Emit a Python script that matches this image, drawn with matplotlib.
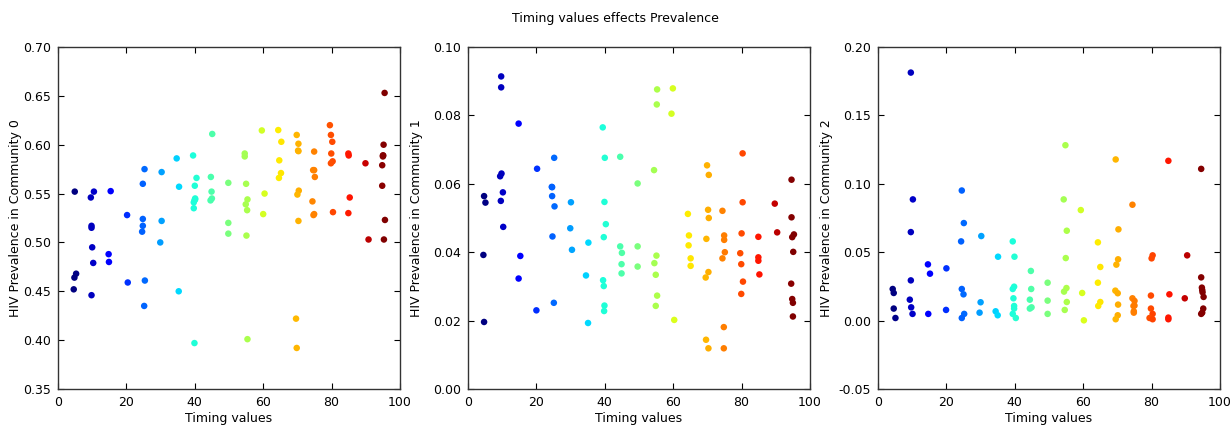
import numpy as np
import matplotlib
matplotlib.use("Agg")
import matplotlib.pyplot as plt

# Timing values (with small jitter) and HIV prevalence per community
timing_c0 = [4.9, 5.3, 4.8, 4.6,
             10.5, 9.6, 9.8, 9.8, 10.0, 10.3, 9.8,
             15.4, 14.8, 14.9,
             20.2, 20.4,
             24.8, 25.3, 24.8, 24.8, 24.6, 25.4, 25.2,
             30.3, 30.3, 29.9,
             34.7, 35.4, 35.3,
             39.5, 40.0, 40.5, 40.1, 39.9, 39.7, 39.7, 39.9, 40.1,
             45.1, 44.7, 44.9, 45.0, 44.6,
             49.8, 49.8, 49.8,
             54.6, 54.6, 55.0, 55.4, 54.9, 55.3, 55.1, 55.4,
             59.6, 60.4, 60.0,
             64.4, 65.3, 64.7, 65.2, 64.6,
             69.8, 70.3, 70.3, 70.4, 70.0, 70.3, 69.6, 69.8, 70.2,
             74.9, 74.6, 74.9, 75.1, 74.4, 74.9, 74.7,
             79.5, 79.8, 80.2, 79.9, 80.3, 79.8, 80.4,
             84.9, 85.0, 85.3, 84.9,
             89.9, 90.8,
             95.5, 95.2, 95.0, 95.0, 94.8, 94.8, 95.6, 95.3, 95.1]
prev_c0 = [0.552, 0.468, 0.464, 0.452,
           0.552, 0.546, 0.517, 0.515, 0.495, 0.479, 0.446,
           0.5525, 0.488, 0.480,
           0.528, 0.459,
           0.560, 0.575, 0.524, 0.517, 0.511, 0.461, 0.435,
           0.572, 0.522, 0.500,
           0.586, 0.557, 0.450,
           0.589, 0.558, 0.566, 0.544, 0.543, 0.541, 0.535, 0.397, 0.545,
           0.611, 0.567, 0.552, 0.545, 0.543,
           0.561, 0.520, 0.509,
           0.591, 0.588, 0.560, 0.544, 0.539, 0.533, 0.507, 0.401,
           0.6146, 0.550, 0.529,
           0.615, 0.603, 0.584, 0.571, 0.566,
           0.610, 0.601, 0.5934, 0.553, 0.549, 0.522, 0.422, 0.392, 0.594,
           0.593, 0.574, 0.574, 0.567, 0.542, 0.529, 0.528,
           0.620, 0.610, 0.603, 0.591, 0.583, 0.581, 0.531,
           0.591, 0.589, 0.546, 0.530,
           0.581, 0.503,
           0.653, 0.600, 0.589, 0.588, 0.579, 0.558, 0.523, 0.503, 0.589]

timing_c1 = [4.7, 5.1, 4.5, 4.7,
             9.7, 9.7, 9.8, 9.4, 10.2, 9.6, 10.3,
             14.8, 15.3, 14.8,
             20.2, 20.0,
             25.2, 24.5, 24.6, 25.3, 24.7, 25.1, 24.6,
             30.1, 29.9, 30.4,
             35.2, 34.5, 35.1,
             39.4, 40.0, 39.9, 40.3, 39.7, 39.5, 39.7, 39.9, 39.8,
             44.5, 44.5, 45.0, 44.9, 44.9,
             49.6, 49.6, 49.6,
             55.3, 55.2, 54.4, 55.1, 54.5, 54.9, 55.3, 54.9,
             59.9, 59.5, 60.3,
             64.3, 64.6, 64.5, 65.1, 65.1,
             69.9, 70.4, 70.2, 70.4, 69.7, 70.3, 69.5, 69.6, 70.3,
             74.4, 74.9, 74.9, 75.1, 74.4, 74.8, 74.8,
             80.3, 80.3, 80.0, 79.6, 79.9, 80.4, 79.9,
             84.9, 84.9, 84.9, 85.2,
             89.7, 90.4,
             94.6, 94.6, 94.8, 95.3, 95.1, 94.5, 94.8, 95.0, 95.0]
prev_c1 = [0.0564, 0.0545, 0.0392, 0.0196,
           0.0914, 0.0882, 0.0630, 0.0622, 0.0575, 0.0550, 0.0474,
           0.0776, 0.0389, 0.0323,
           0.0644, 0.0230,
           0.0676, 0.0591, 0.0564, 0.0534, 0.0446, 0.0252, 0.0590,
           0.0546, 0.0470, 0.0407,
           0.0428, 0.0332, 0.0193,
           0.0765, 0.0676, 0.0547, 0.0482, 0.0444, 0.0318, 0.0301, 0.0244, 0.0228,
           0.0679, 0.0417, 0.0398, 0.0365, 0.0338,
           0.0601, 0.0417, 0.0358,
           0.0876, 0.0832, 0.0640, 0.0390, 0.0368, 0.0334, 0.0273, 0.0243,
           0.0879, 0.0805, 0.0202,
           0.0512, 0.0449, 0.0420, 0.0382, 0.0360,
           0.0654, 0.0626, 0.0524, 0.0500, 0.0439, 0.0342, 0.0326, 0.0144, 0.0119,
           0.0521, 0.0449, 0.0436, 0.0400, 0.0382, 0.0181, 0.0119,
           0.0689, 0.0546, 0.0455, 0.0397, 0.0365, 0.0314, 0.0278,
           0.0445, 0.0385, 0.0375, 0.0335,
           0.0542, 0.0458,
           0.0612, 0.0502, 0.0444, 0.0452, 0.0401, 0.0308, 0.0263, 0.0252, 0.0212]

timing_c2 = [4.3, 4.6, 4.6, 5.1,
             9.6, 10.2, 9.6, 9.6, 9.3, 9.7, 10.1,
             14.6, 15.2, 14.7,
             20.0, 19.9,
             24.5, 25.1, 24.3, 24.5, 25.0, 25.2, 24.5,
             30.2, 30.0, 29.7,
             35.1, 34.4, 35.0,
             39.4, 39.9, 39.8, 39.4, 39.6, 39.8, 39.8, 39.4, 40.3,
             44.7, 44.8, 44.4, 44.9, 44.4,
             49.6, 49.6, 49.6,
             54.8, 54.3, 55.2, 54.9, 55.1, 54.4, 55.2, 54.6,
             59.3, 59.7, 60.2,
             64.3, 65.0, 64.3, 65.0, 64.4,
             69.5, 70.3, 70.2, 69.7, 69.4, 70.1, 70.2, 70.1, 69.5,
             74.4, 74.4, 75.0, 74.7, 74.8, 74.8, 75.0,
             80.3, 80.0, 79.8, 79.8, 80.3, 79.4, 80.3,
             84.9, 85.2, 84.9, 84.9,
             90.4, 89.7,
             94.5, 94.5, 94.7, 94.8, 94.9, 95.2, 95.1, 94.8, 94.5]
prev_c2 = [0.0231, 0.0202, 0.0088, 0.0019,
           0.1813, 0.0886, 0.0647, 0.0294, 0.0153, 0.0097, 0.0049,
           0.0411, 0.0343, 0.0049,
           0.0382, 0.0078,
           0.0951, 0.0713, 0.0579, 0.0231, 0.0192, 0.0049, 0.0019,
           0.0618, 0.0134, 0.0058,
           0.0467, 0.0068, 0.0039,
           0.0579, 0.0467, 0.0248, 0.0231, 0.0163, 0.0107, 0.0088, 0.0049, 0.0019,
           0.0363, 0.0231, 0.0153, 0.0097, 0.0088,
           0.0277, 0.0146, 0.0049,
           0.1282, 0.0886, 0.0657, 0.0457, 0.0238, 0.0212, 0.0136, 0.0078,
           0.0808, 0.0202, 0.0002,
           0.0572, 0.0392, 0.0277, 0.0136, 0.0107,
           0.1178, 0.0667, 0.0448, 0.0409, 0.0219, 0.0200, 0.0117, 0.0039, 0.0010,
           0.0847, 0.0163, 0.0144, 0.0107, 0.0068, 0.0058, 0.0110,
           0.0477, 0.0455, 0.0183, 0.0088, 0.0049, 0.0019, 0.0010,
           0.1168, 0.0192, 0.0022, 0.0010,
           0.0477, 0.0163,
           0.1109, 0.0316, 0.0241, 0.0224, 0.0207, 0.0173, 0.0088, 0.0058, 0.0049]

x_ticks = [0, 20, 40, 60, 80, 100]
y_limits = [(0.35, 0.70), (0.00, 0.10), (-0.05, 0.20)]
y_steps = [0.05, 0.02, 0.05]

panels = [(timing_c0, prev_c0), (timing_c1, prev_c1), (timing_c2, prev_c2)]

plt.rcParams["font.family"] = "DejaVu Sans"
plt.rcParams["font.size"] = 9

W, H = 1231, 425
fig = plt.figure(figsize=(W / 100, H / 100), dpi=100)
fig.suptitle("Timing values effects Prevalence", y=0.972, fontsize=9)

lefts = [58, 468, 878]
ylabel_x = [-0.105, -0.132, -0.132]
for i, ((tx, py), left) in enumerate(zip(panels, lefts)):
    ax = fig.add_axes([left / W, 36 / H, 342 / W, 342 / H])
    ax.scatter(tx, py, c=tx, cmap="jet", s=22, linewidths=0,
               vmin=min(tx), vmax=max(tx))
    ax.set_xlim(0, 100)
    lo, hi = y_limits[i]
    ax.set_ylim(lo, hi)
    ax.set_xticks(x_ticks)
    ax.set_yticks(np.arange(lo, hi + 1e-9, y_steps[i]))
    ax.yaxis.set_major_formatter(matplotlib.ticker.FormatStrFormatter("%.2f"))
    ax.tick_params(direction="in", top=True, right=True, length=4, width=0.8,
                   labelsize=9, pad=5)
    for sp in ax.spines.values():
        sp.set_color("#333333")
        sp.set_linewidth(1.0)
    ax.set_xlabel("Timing values", fontsize=9, labelpad=2)
    ax.set_ylabel(f"HIV Prevalence in Community {i}", fontsize=9)
    ax.yaxis.set_label_coords(ylabel_x[i], 0.5)

fig.savefig("out.png", dpi=100)
